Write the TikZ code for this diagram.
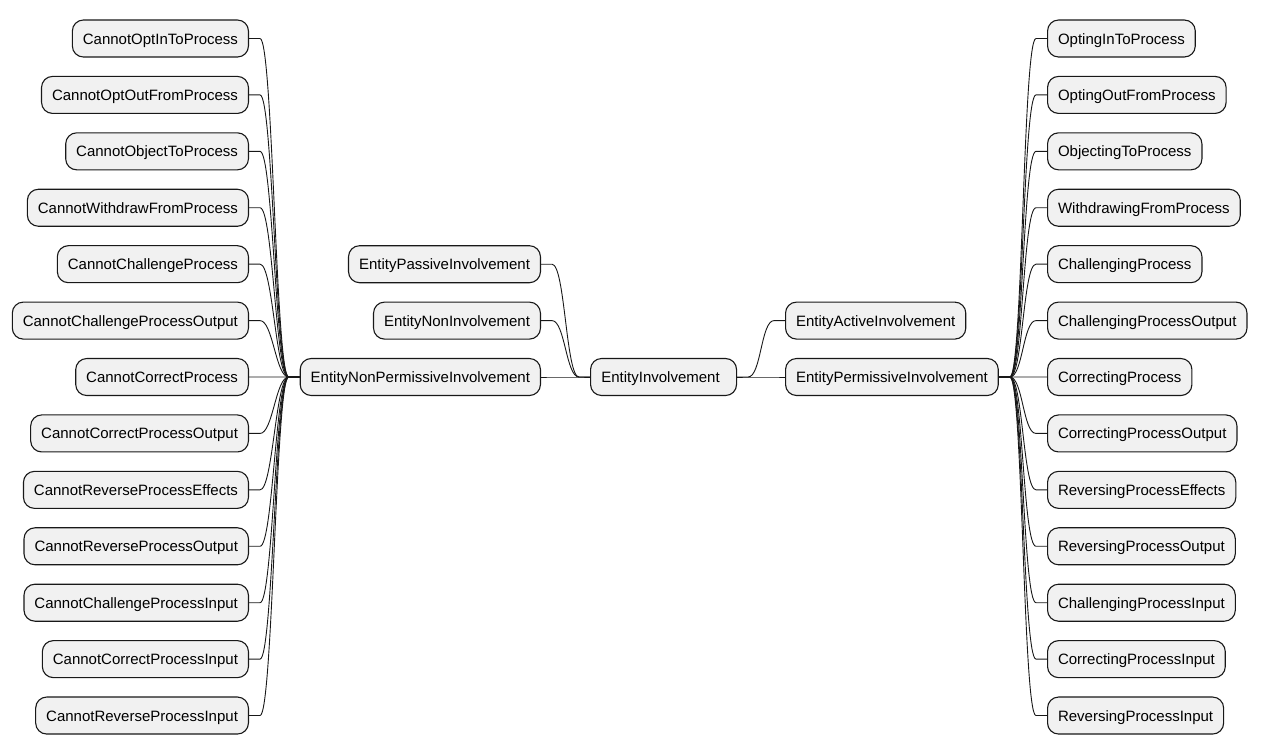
\documentclass[tikz,border=0pt]{standalone}
\usepackage{fontspec}
\setmainfont{Liberation Sans}
\usetikzlibrary{calc}
\definecolor{boxfill}{HTML}{F1F1F1}
\definecolor{ink}{HTML}{181818}
\tikzset{
  box/.style={draw=ink, fill=boxfill, line width=1.1pt, rounded corners=11pt,
    minimum height=37pt, inner xsep=10.5pt, inner ysep=0pt,
    text height=11pt, text depth=0pt, font=\fontsize{15}{18}\selectfont},
  conn/.style={draw=ink, line width=0.9pt}
}
\newcommand\mconn[2]{\draw[conn] (#1.east) -- ++(11,0) .. controls +(13,0) and +(-13,0) .. ($(#2.west)+(-11,0)$) -- (#2.west);}
\begin{document}
\begin{tikzpicture}[x=1pt,y=-1pt]
\useasboundingbox (0,0) rectangle (1262,755);
\node[box, anchor=west, minimum width=146pt] (root) at (590,377) {EntityInvolvement\hspace*{6pt}};
\node[box, anchor=east] (NP) at (541,377) {EntityNonPermissiveInvolvement};
\node[box, anchor=east] (PI) at (541,264.2) {EntityPassiveInvolvement};
\node[box, anchor=east] (NI) at (541,320.6) {EntityNonInvolvement};
\node[box, anchor=west] (AI) at (785,320.6) {EntityActiveInvolvement};
\node[box, anchor=west] (PE) at (785,377) {EntityPermissiveInvolvement};
\mconn{PI}{root}
\mconn{NI}{root}
\mconn{NP}{root}
\mconn{root}{AI}
\mconn{root}{PE}
\foreach \t [count=\i from 0] in {CannotOptInToProcess,CannotOptOutFromProcess,CannotObjectToProcess,CannotWithdrawFromProcess,CannotChallengeProcess,CannotChallengeProcessOutput,CannotCorrectProcess,CannotCorrectProcessOutput,CannotReverseProcessEffects,CannotReverseProcessOutput,CannotChallengeProcessInput,CannotCorrectProcessInput,CannotReverseProcessInput}{
  \node[box, anchor=east] (L\i) at (249,{38.5+56.42*\i}) {\t};
  \mconn{L\i}{NP}
}
\foreach \t [count=\i from 0] in {OptingInToProcess,OptingOutFromProcess,ObjectingToProcess,WithdrawingFromProcess,ChallengingProcess,ChallengingProcessOutput,CorrectingProcess,CorrectingProcessOutput,ReversingProcessEffects,ReversingProcessOutput,ChallengingProcessInput,CorrectingProcessInput,ReversingProcessInput}{
  \node[box, anchor=west] (R\i) at (1047,{38.5+56.42*\i}) {\t};
  \mconn{PE}{R\i}
}
\end{tikzpicture}
\end{document}
